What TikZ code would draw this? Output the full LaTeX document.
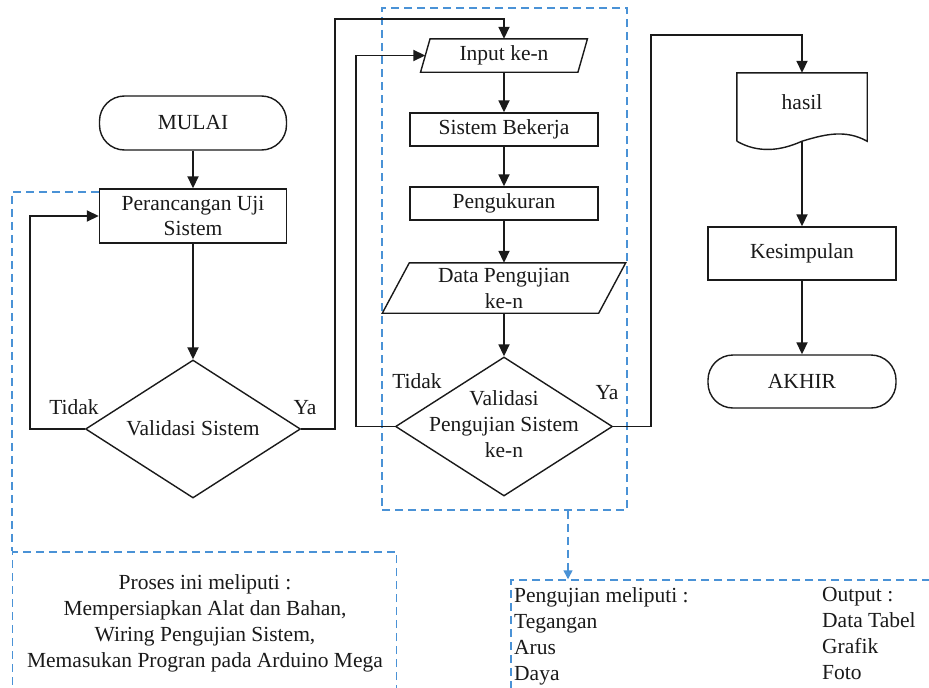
\documentclass[tikz,border=0pt]{standalone}
\usepackage{fontspec}
\setmainfont{Liberation Serif}
\usetikzlibrary{arrows.meta,calc,shapes.geometric}
\definecolor{ink}{HTML}{1A1A1A}
\definecolor{dashblue}{HTML}{4A92D6}
\begin{document}
\begin{tikzpicture}[x=1pt,y=-1pt,
  every node/.style={font=\fontsize{21.5}{25}\selectfont, text=ink, inner sep=0pt, align=center},
  flowline/.style={draw=ink, line width=1.8pt},
  arrowline/.style={flowline, -{Triangle[length=12pt,width=11pt]}},
  shapeline/.style={draw=ink, line width=1.4pt},
  procbox/.style={shapeline, rectangle, minimum width=188, minimum height=33},
  terminal/.style={shapeline, rectangle, rounded corners=25pt, minimum width=187, minimum height=54},
  decision/.style={shapeline, diamond, minimum width=215, minimum height=138},
  iobox/.style={rectangle, minimum height=33},
  bluedash/.style={draw=dashblue, line width=1.5pt, dash pattern=on 8pt off 5pt},
  notetext/.style={font=\fontsize{21.5}{26}\selectfont},
]
\useasboundingbox (0,0) rectangle (929,688);
\fill[white] (0,0) rectangle (929,688);

% ---- dashed note frames ----
\node[bluedash, rectangle, minimum width=245, minimum height=502] (ujibox) at (504.5,259) {};
\node[bluedash, rectangle, minimum width=384, minimum height=160] (prosesbox) at (204.5,632) {};
\node[bluedash, rectangle, minimum width=449, minimum height=132] (pengujianbox) at (735.5,646) {};

% ---- left column ----
\node[terminal] (mulai) at (193,123) {MULAI};
\node[procbox, minimum width=187, minimum height=54] (perancangan) at (193,216) {Perancangan Uji\\Sistem};
\node[decision] (valsis) at (193,429) {};
\node (valsistxt) at (193,428) {Validasi Sistem};
\node (tidak1) at (74,407) {Tidak};
\node (ya1) at (305,408) {Ya};

% ---- middle column ----
\node[iobox, minimum width=157] (input) at (504,55.5) {Input ke-n};
\draw[shapeline] ($(input.north west)+(4.75,0)$) -- ($(input.north east)+(4.75,0)$)
  -- ($(input.south east)+(-4.75,0)$) -- ($(input.south west)+(-4.75,0)$) -- cycle;
\node[procbox] (bekerja) at (504,129.5) {Sistem Bekerja};
\node[procbox] (ukur) at (504,203.5) {Pengukuran};
\node[iobox, minimum width=216, minimum height=50, font=\fontsize{21.5}{26}\selectfont] (data) at (504,288) {Data Pengujian\\ke-n};
\draw[shapeline] ($(data.north west)+(13.5,0)$) -- ($(data.north east)+(13.5,0)$)
  -- ($(data.south east)+(-13.5,0)$) -- ($(data.south west)+(-13.5,0)$) -- cycle;
\node[decision, minimum width=217, minimum height=139] (valuji) at (504,426.5) {};
\node[font=\fontsize{21.5}{26}\selectfont] (valujitxt) at (504,424) {Validasi\\Pengujian Sistem\\ke-n};
\node (tidak2) at (417,381) {Tidak};
\node (ya2) at (607,393) {Ya};

% ---- right column ----
\node[rectangle, minimum width=130, minimum height=68] (hasil) at (802,107) {};
\draw[shapeline] (hasil.south west) -- (hasil.north west) -- (hasil.north east) -- (hasil.south east)
  .. controls ($(hasil.south east)+(-22,-12)$) and ($(hasil.south east)+(-42,-7)$) .. (hasil.south)
  .. controls ($(hasil.south)+(-22,10)$) and ($(hasil.south west)+(21,12)$) .. (hasil.south west);
\node (hasiltxt) at (802,102) {hasil};
\node[procbox, minimum height=53] (kesimpulan) at (802,253.5) {Kesimpulan};
\node[terminal, minimum width=188, minimum height=53] (akhir) at (802,381.5) {AKHIR};

% ---- bend points ----
\coordinate (tbend1) at (30,216);
\coordinate (ybend1) at (335,19);
\coordinate (tbend2) at (356,55.5);
\coordinate (ybend2) at (651,35);
\coordinate (notex) at (568,0);

% ---- connectors ----
\draw[arrowline] (mulai) -- (perancangan);
\draw[arrowline] (perancangan) -- (valsis);
\draw[arrowline] (valsis.west) -| (tbend1) -- (perancangan.west);
\draw[arrowline] (valsis.east) -| (ybend1) -| (input.north);
\draw[arrowline] (input) -- (bekerja);
\draw[arrowline] (bekerja) -- (ukur);
\draw[arrowline] (ukur) -- (data);
\draw[arrowline] (data) -- (valuji);
\draw[arrowline] (valuji.west) -| (tbend2) -- (input.west);
\draw[arrowline] (valuji.east) -| (ybend2) -| (hasil.north);
\draw[arrowline] (hasil.south) -- (kesimpulan);
\draw[arrowline] (kesimpulan) -- (akhir);

% ---- dashed leaders ----
\draw[bluedash] ($(perancangan.north west)+(0,3.5)$) -| (prosesbox.north west);
\draw[bluedash, -{Triangle[length=9pt,width=9pt]}] (ujibox.south -| notex) -- (pengujianbox.north -| notex);

% ---- note texts ----
\node[notetext, anchor=north] (prosestxt) at (205,574.5)
  {Proses ini meliputi :\\Mempersiapkan Alat dan Bahan,\\Wiring Pengujian Sistem,\\Memasukan Progran pada Arduino Mega};
\node[notetext, anchor=north west, align=left] (ujilist) at (514,587)
  {Pengujian meliputi :\\Tegangan\\Arus\\Daya};
\node[notetext, anchor=north west, align=left] (outlist) at (822,587)
  {Output :\\Data Tabel\\Grafik\\Foto};
\end{tikzpicture}
\end{document}
